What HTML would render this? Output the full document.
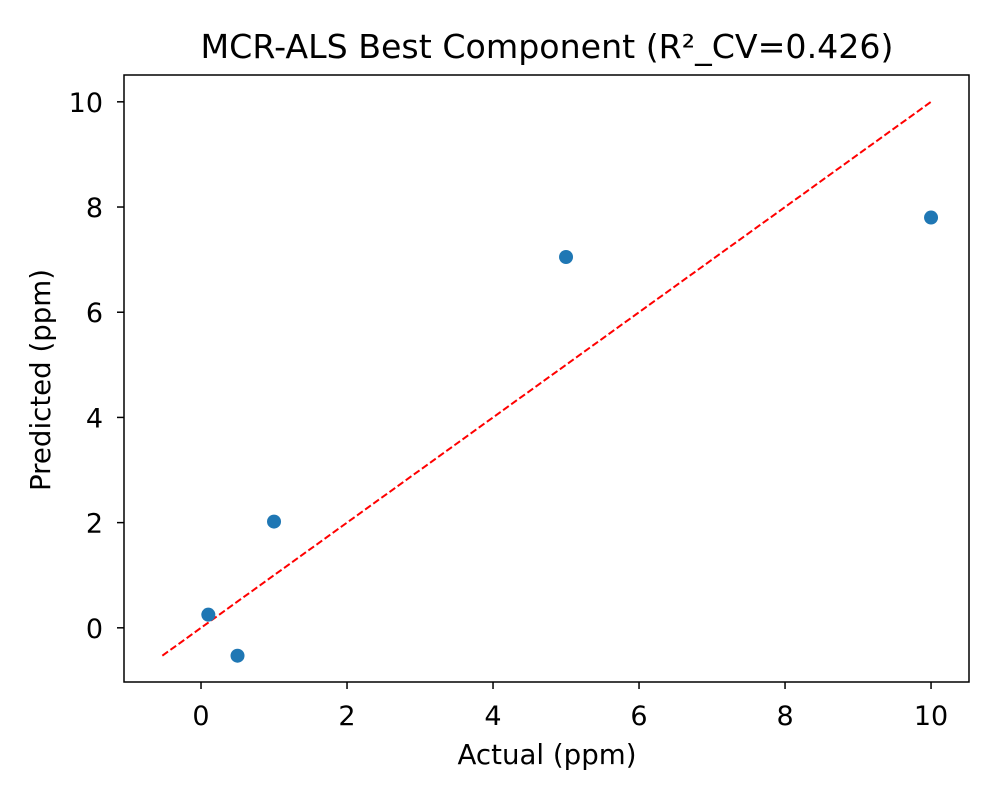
<!DOCTYPE html>
<html><head><meta charset="utf-8"><style>
body{margin:0;background:#fff;}
svg text{font-family:"DejaVu Sans","Liberation Sans",sans-serif;fill:#000;}
</style></head><body>
<svg id="chart" width="1000" height="800" xmlns="http://www.w3.org/2000/svg">
<rect width="1000" height="800" fill="#fff"/>
<text x="547" y="58" font-size="33" text-anchor="middle" textLength="693" lengthAdjust="spacingAndGlyphs">MCR-ALS Best Component (R²_CV=0.426)</text>
<g id="ticks"></g>
<line id="ideal" stroke="#ff0000" stroke-width="2" stroke-dasharray="7,3"/>
<g id="points"></g>
<rect x="124" y="75" width="845" height="607" fill="none" stroke="#000" stroke-width="1.5"/>
<text x="547" y="764" font-size="28" text-anchor="middle" textLength="179" lengthAdjust="spacingAndGlyphs">Actual (ppm)</text>
<text transform="translate(50,380) rotate(-90)" font-size="28" text-anchor="middle" textLength="222" lengthAdjust="spacingAndGlyphs">Predicted (ppm)</text>
</svg>
<script>
const actual=[0.1,0.5,1,5,10];
const predicted=[0.25,-0.53,2.02,7.05,7.8];
const xTicks=[0,2,4,6,8,10];
const yTicks=[0,2,4,6,8,10];
const lineRange=[-0.53,10];
const X0=124,X1=969,Y0=682,Y1=75;
const xMin=-1.055,xMax=10.52,yMin=-1.03,yMax=10.51;
function sx(v){return X0+(v-xMin)/(xMax-xMin)*(X1-X0);}
function sy(v){return Y0-(v-yMin)/(yMax-yMin)*(Y0-Y1);}
const NS="http://www.w3.org/2000/svg";
const tg=document.getElementById('ticks');
function mk(tag,attrs,parent){const e=document.createElementNS(NS,tag);for(const k in attrs)e.setAttribute(k,attrs[k]);parent.appendChild(e);return e;}
xTicks.forEach(t=>{
 const l=mk('line',{x1:sx(t),x2:sx(t),y1:Y0,y2:Y0+7,stroke:'#000','stroke-width':1.5},tg);
 
 
 const tx=mk('text',{x:sx(t),y:Y0+43,'font-size':27,'text-anchor':'middle'},tg);tx.textContent=t;
 
 
});
yTicks.forEach(t=>{
 const l=mk('line',{x1:X0-7,x2:X0,y1:sy(t),y2:sy(t),stroke:'#000','stroke-width':1.5},tg);
 
 
 const tx=mk('text',{x:X0-21,y:sy(t)+10,'font-size':27,'text-anchor':'end'},tg);tx.textContent=t;
 
 
});
const ln=document.getElementById('ideal');
ln.setAttribute('x1',sx(lineRange[0]));ln.setAttribute('y1',sy(lineRange[0]));
ln.setAttribute('x2',sx(lineRange[1]));ln.setAttribute('y2',sy(lineRange[1]));
const pg=document.getElementById('points');
actual.forEach((a,i)=>{
 const c=mk('circle',{cx:sx(a),cy:sy(predicted[i]),r:7,fill:'#1f77b4'},pg);
 
 
});
</script>
</body></html>
